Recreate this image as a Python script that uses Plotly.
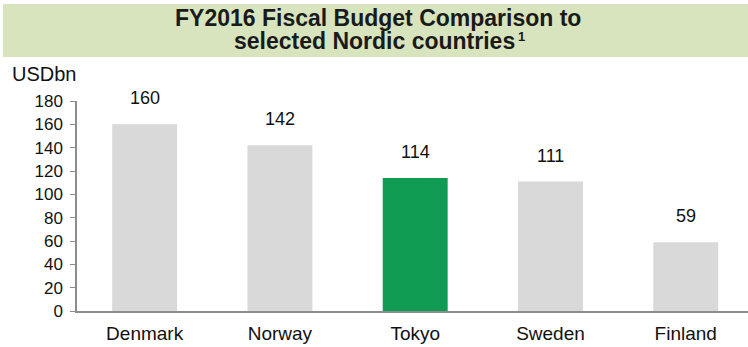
import plotly.graph_objects as go

# FY2016 fiscal budget, USD bn
countries = ["Denmark", "Norway", "Tokyo", "Sweden", "Finland"]
budget = [160, 142, 114, 111, 59]
bar_colors = ["#d9d9d9", "#d9d9d9", "#0f9b52", "#d9d9d9", "#d9d9d9"]
y_ticks = [0, 20, 40, 60, 80, 100, 120, 140, 160, 180]
title_line1 = "<b>FY2016 Fiscal Budget Comparison to</b>"
title_line2 = "<b>selected Nordic countries</b>"
footnote_mark = "<b>1</b>"

FONT = "Liberation Sans, Arial, sans-serif"
W, H = 748, 347
ML, MR, MT, MB = 77, 0, 101, 36
PW, PH = W - ML - MR, H - MT - MB


def px_x(x):
    return (x - ML) / PW


def px_y(y):
    return (H - MB - y) / PH


fig = go.Figure(
    go.Bar(
        x=countries,
        y=budget,
        marker=dict(color=bar_colors, line=dict(width=0)),
        width=0.48,
        hoverinfo="x+y",
    )
)

# value labels floating above each bar
for c, v in zip(countries, budget):
    fig.add_annotation(
        x=c, y=v, xref="x", yref="y", text=str(v), showarrow=False,
        yanchor="middle", yshift=26,
        font=dict(family=FONT, size=18, color="#111111"),
    )

# title band
fig.add_shape(
    type="rect", xref="paper", yref="paper",
    x0=px_x(3), x1=px_x(748), y0=px_y(57), y1=px_y(4),
    fillcolor="#d8e4bd", line=dict(width=0), layer="below",
)
fig.add_annotation(
    xref="paper", yref="paper", x=px_x(378), y=px_y(18),
    text=title_line1, showarrow=False, xanchor="center", yanchor="middle",
    font=dict(family=FONT, size=23, color="#1a1a1a"),
)
fig.add_annotation(
    xref="paper", yref="paper", x=px_x(232), y=px_y(41),
    text=title_line2, showarrow=False, xanchor="left", yanchor="middle",
    font=dict(family=FONT, size=23, color="#1a1a1a"),
)
fig.add_annotation(
    xref="paper", yref="paper", x=px_x(516), y=px_y(36),
    text=footnote_mark, showarrow=False, xanchor="left", yanchor="middle",
    font=dict(family=FONT, size=13, color="#1a1a1a"),
)
# unit label
fig.add_annotation(
    xref="paper", yref="paper", x=px_x(10), y=px_y(74),
    text="USDbn", showarrow=False, xanchor="left", yanchor="middle",
    font=dict(family=FONT, size=20, color="#111111"),
)

fig.update_layout(
    width=W, height=H,
    margin=dict(l=ML, r=MR, t=MT, b=MB),
    paper_bgcolor="white", plot_bgcolor="white",
    showlegend=False,
    xaxis=dict(
        showline=True, linecolor="#8c8c8c", linewidth=2,
        ticks="", showgrid=False,
        tickfont=dict(family=FONT, size=19, color="#111111"),
        ticklabelstandoff=4,
        range=[-0.5, 4.46],
    ),
    yaxis=dict(
        range=[0, 180], tickvals=y_ticks,
        showline=True, linecolor="#8c8c8c", linewidth=1.5,
        ticks="outside", ticklen=5, tickcolor="#8c8c8c", tickwidth=1,
        showgrid=False, zeroline=False,
        tickfont=dict(family=FONT, size=17, color="#111111"),
        ticklabelstandoff=4,
    ),
)

fig.write_html("out.html")
